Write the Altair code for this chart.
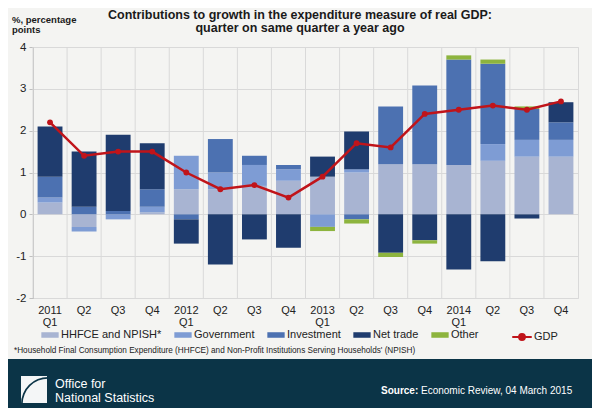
import altair as alt
import pandas as pd

quarters = ["2011 Q1", "2011 Q2", "2011 Q3", "2011 Q4",
            "2012 Q1", "2012 Q2", "2012 Q3", "2012 Q4",
            "2013 Q1", "2013 Q2", "2013 Q3", "2013 Q4",
            "2014 Q1", "2014 Q2", "2014 Q3", "2014 Q4"]

series = ["HHFCE and NPISH*", "Government", "Investment", "Net trade", "Other"]
colors = ["#A8B4D2", "#7E9CD4", "#4C71B1", "#1F3C6E", "#8DB43E"]

hhfce      = [0.28, -0.30, 0.00, 0.05, 0.60, 0.60, 0.68, 0.80, 0.90, 1.00, 1.20, 1.20, 1.18, 1.28, 1.38, 1.38]
government = [0.12, -0.11, -0.12, 0.13, 0.80, 0.40, 0.50, 0.28, -0.30, 0.08, 0.00, 0.00, 0.00, 0.40, 0.40, 0.40]
investment = [0.50, 0.18, 0.08, 0.42, -0.12, 0.80, 0.22, 0.10, 0.00, -0.12, 1.38, 1.88, 2.52, 1.92, 0.74, 0.42]
net_trade  = [1.20, 1.32, 1.82, 1.10, -0.58, -1.20, -0.60, -0.80, 0.48, 0.90, -0.92, -0.62, -1.32, -1.12, -0.10, 0.48]
other      = [0.00, 0.00, 0.00, 0.00, 0.00, 0.00, 0.00, 0.00, -0.10, -0.10, -0.10, -0.08, 0.10, 0.10, 0.06, 0.00]
gdp        = [2.2, 1.4, 1.5, 1.5, 1.0, 0.6, 0.7, 0.4, 0.9, 1.7, 1.6, 2.4, 2.5, 2.6, 2.5, 2.7]

y_ticks = [-2, -1, 0, 1, 2, 3, 4]

title_lines = ["Contributions to growth in the expenditure measure of real GDP:",
               "quarter on same quarter a year ago"]
y_title = ["%, percentage", "points"]
footnote = "*Household Final Consumption Expenditure (HHFCE) and Non-Profit Institutions  Serving Households' (NPISH)"
org_lines = ["Office for", "National Statistics"]
source_bold = "Source:"
source_text = "Economic Review, 04 March 2015"

# ---- tables built from the arrays ----
rows = []
for si, (name, vals) in enumerate(zip(series, [hhfce, government, investment, net_trade, other])):
    for q, v in zip(quarters, vals):
        rows.append({"quarter": q, "series": name, "value": v, "idx": si})
bars_df = pd.DataFrame(rows)
gdp_df = pd.DataFrame({"quarter": quarters, "gdp": gdp, "series": "GDP"})
q_df = pd.DataFrame({"quarter": quarters})

W, H = 545, 251
FONT = "Liberation Sans"
DARK = "#0B3447"
RED = "#C0141A"
GRID = "#D9D9D9"

x_axis = alt.Axis(
    labelExpr="indexof(datum.label, 'Q1') >= 0 ? split(datum.label, ' ') : slice(datum.label, 5)",
    labelAngle=0, ticks=False, domain=False, grid=False, title=None,
    labelFontSize=11, labelLineHeight=12, labelPadding=6, labelColor="#222222",
    labelFont=FONT, labelBaseline="top")
x_scale = alt.Scale(paddingInner=0.27, paddingOuter=0.135)

def xenc():
    return alt.X("quarter:N", sort=quarters, scale=x_scale, axis=x_axis, title=None)

y_scale = alt.Scale(domain=[-2, 4], nice=False, zero=False)
y_axis = alt.Axis(values=y_ticks, labelExpr="replace(datum.label, '\u2212', '-')", title=None,
                  gridColor=GRID, domainColor="#BFBFBF", tickColor="#BFBFBF",
                  tickSize=4, labelPadding=3, labelFontSize=11.5, labelFont=FONT,
                  labelColor="#222222")

rules = alt.Chart(q_df).mark_rule(color=GRID, strokeWidth=1, xOffset=-W / 32).encode(
    x=xenc(), y=alt.value(0), y2=alt.value(H))

bars = alt.Chart(bars_df).mark_bar().encode(
    x=xenc(),
    y=alt.Y("value:Q", stack="zero", scale=y_scale, axis=y_axis, title=None),
    color=alt.Color("series:N", scale=alt.Scale(domain=series, range=colors),
                    legend=alt.Legend(title=None, orient="none", legendX=8, legendY=279,
                                      direction="horizontal",
                                      symbolType="M-1,-0.32H1V0.32H-1Z", symbolSize=300,
                                      symbolStrokeWidth=0, labelFontSize=11, labelFont=FONT,
                                      labelColor="#222222", columnPadding=12, labelOffset=2,
                                      symbolOffset=0)),
    order=alt.Order("idx:Q"),
)

line = alt.Chart(gdp_df).mark_line(strokeWidth=2.5).encode(
    x=xenc(),
    y=alt.Y("gdp:Q", scale=y_scale, axis=y_axis, title=None),
    stroke=alt.Stroke("series:N", scale=alt.Scale(domain=["GDP"], range=[RED]),
                      legend=alt.Legend(title=None, orient="none", legendX=478, legendY=279,
                                        symbolType="M-1,0H1M-0.3,0A0.3,0.3,0,1,1,0.3,0A0.3,0.3,0,1,1,-0.3,0Z",
                                        symbolSize=380, symbolStrokeWidth=2,
                                        symbolFillColor=RED, labelFontSize=11, labelFont=FONT,
                                        labelColor="#222222", labelOffset=1, symbolOffset=0)),
)

points = alt.Chart(gdp_df).mark_circle(size=34, color=RED, opacity=1).encode(
    x=xenc(), y=alt.Y("gdp:Q", scale=y_scale, axis=y_axis, title=None))

def txt(text, x, y, size, weight="normal", color="#1a1a1a", align="left", font=FONT):
    return alt.Chart(alt.Data(values=[{}])).mark_text(
        text=text, align=align, baseline="alphabetic", fontSize=size, fontWeight=weight,
        color=color, font=font).encode(x=alt.value(x), y=alt.value(y))

title1 = txt(title_lines[0], 267, -28, 12.5, "bold", "#1a1a1a", "center")
title2 = txt(title_lines[1], 267, -15, 12.5, "bold", "#1a1a1a", "center")
yt1 = txt(y_title[0], -21, -24, 9.5, "bold")
yt2 = txt(y_title[1], -21, -14, 9.5, "bold")
foot = txt(footnote, -19, 306, 8.2, "normal", "#222222")

band = alt.Chart(alt.Data(values=[{}])).mark_rect(color=DARK).encode(
    x=alt.value(-25), x2=alt.value(W + 14), y=alt.value(312), y2=alt.value(361))
logo_sq = alt.Chart(alt.Data(values=[{}])).mark_rect(color="#F4F6F7").encode(
    x=alt.value(-12), x2=alt.value(14), y=alt.value(329), y2=alt.value(356))
logo_arc = alt.Chart(alt.Data(values=[{}])).mark_arc(radius=27, radius2=25.3, color=DARK).encode(
    x=alt.value(15), y=alt.value(357), theta=alt.value(4.72), theta2=alt.value(6.283))
org1 = txt(org_lines[0], 22, 341, 12.5, "normal", "#FFFFFF")
org2 = txt(org_lines[1], 22, 355, 12.5, "normal", "#FFFFFF")
src1 = txt(source_bold, 348, 347, 10, "bold", "#FFFFFF")
src2 = txt(source_text, 388, 347, 10, "normal", "#FFFFFF")

chart = alt.layer(
    rules, bars, line, points, title1, title2, yt1, yt2, foot,
    band, logo_sq, logo_arc, org1, org2, src1, src2
).properties(
    width=W, height=H,
    background="#F4F4F2",
    padding={"left": 25, "top": 39, "right": 14, "bottom": 110},
    autosize=alt.AutoSizeParams(type="none"),
).configure_view(stroke=GRID)

chart.save("out.html", embed_options={"renderer": "svg", "actions": False})
